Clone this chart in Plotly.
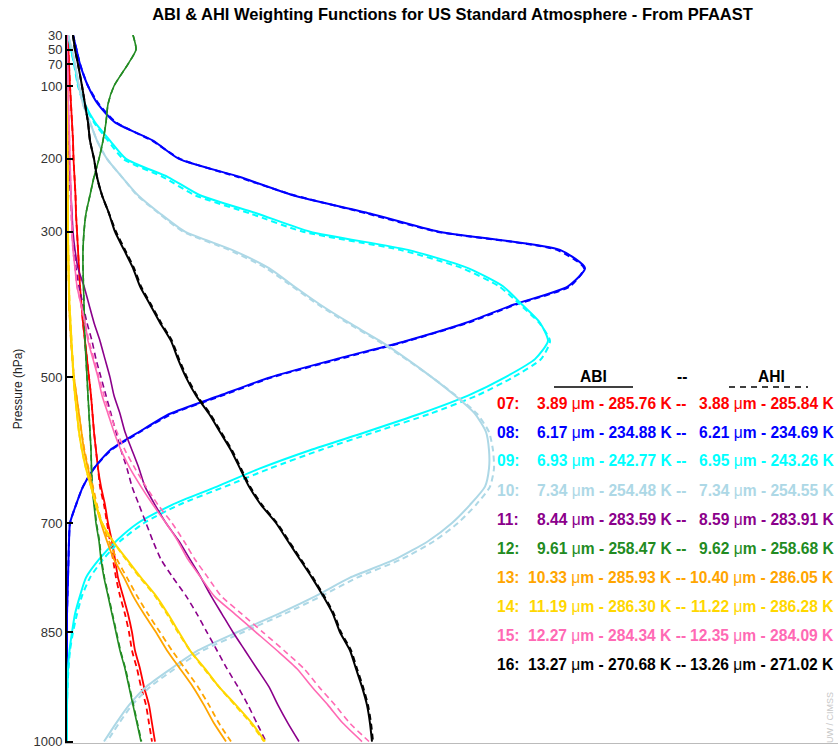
import plotly.graph_objects as go

# Pressure levels (hPa) on which the weighting functions are tabulated
P = [30, 50, 70, 100, 125, 150, 175, 200, 225, 250, 275, 300, 325, 350, 375,
     400, 425, 450, 475, 500, 525, 550, 575, 600, 625, 650, 675, 700, 725, 750,
     775, 800, 825, 850, 875, 900, 925, 950, 975, 1000]

# Weighting functions (arbitrary units, x1e-3) -- ABI (solid) and AHI (dashed)
ABI_07 = [1, 1.5, 2, 3, 4, 5, 6, 6.5, 7.5, 8.5, 9, 10, 11, 12, 13, 14.5, 16, 18, 20, 22,
          24, 25.5, 27, 29, 31, 34, 38, 41, 45, 48, 51, 56, 61, 65, 68, 73, 77, 82, 85, 88]
AHI_07 = [1, 1.5, 2, 3, 4, 5, 6, 6.5, 7.5, 8.5, 9, 10, 11, 12, 13, 14.5, 16, 18, 20, 22,
          24, 25.5, 27, 29, 31, 33, 37, 40, 43, 46, 49, 53, 58, 62, 65, 70, 74, 79, 82, 85]

ABI_08 = [6, 9.5, 13, 21, 31, 48, 86, 112, 173, 226, 303, 372, 493, 518, 501, 447, 399, 339, 269, 203,
          153, 103, 72, 43, 27, 16, 9, 3, 2, 1.5, 1, 0.5, 0, 0, 0, 0, 0, 0, 0, 0]
AHI_08 = [6, 9.5, 13, 21, 32, 49, 85, 113, 171, 227, 300, 370, 490, 517, 503, 449, 401, 341, 272, 205,
          155, 105, 73, 44, 27, 16, 9, 3, 2, 1.5, 1, 0.5, 0, 0, 0, 0, 0, 0, 0, 0]

ABI_09 = [1, 4, 7.5, 11.5, 18, 28, 43, 59, 101, 133, 190, 243, 341, 401, 436, 455, 473, 481, 468, 438,
          401, 353, 299, 243, 193, 150, 105, 71, 49, 32, 19, 13, 8, 5, 2.5, 1, 0.5, 0, 0, 0]
AHI_09 = [1, 4, 7, 11, 17, 27, 41, 56, 96, 128, 183, 236, 333, 395, 432, 453, 472, 483, 474, 446,
          410, 363, 308, 253, 203, 158, 112, 77, 53, 36, 23, 15, 10, 6, 3, 1.5, 0.5, 0, 0, 0]

ABI_10 = [1, 5, 8, 12, 16, 23, 30, 40, 55, 71, 93, 118, 165, 202, 227, 253, 282, 313, 340, 365,
          388, 408, 419, 422, 422, 418, 403, 385, 361, 328, 283, 249, 211, 170, 131, 104, 79, 62, 49, 37]
AHI_10 = [1, 5, 8, 12, 16, 23, 30, 40, 55, 70, 92, 116, 162, 199, 225, 251, 280, 311, 339, 365,
          389, 410, 422, 426, 427, 423, 409, 391, 367, 334, 290, 255, 217, 176, 136, 108, 83, 65, 52, 40]

ABI_11 = [0, 0.2, 0.4, 0.6, 0.8, 1, 1.5, 2, 3, 4, 5, 6, 8, 11, 17, 22, 27, 33, 38, 43,
          47, 53, 58, 65, 72, 78, 88, 99, 112, 123, 134, 144, 155, 166, 178, 190, 202, 211, 221, 232]
AHI_11 = [0, 0.2, 0.4, 0.6, 0.8, 1, 1.5, 2, 2.5, 3.5, 4.5, 5, 7, 9, 12, 16, 20, 25, 29, 34,
          39, 44, 49, 54, 60, 65, 72, 79, 86, 94, 106, 119, 130, 140, 150, 160, 171, 181, 190, 199]

ABI_12 = [66, 69, 61, 47, 41, 39, 36, 32, 27, 23, 19, 17, 16, 16, 16.5, 17, 17.5, 18, 19, 20,
          21, 22, 23, 24, 24.5, 25, 27, 29, 32, 34, 37, 41, 45, 49, 53, 58, 62, 66, 70, 74]
AHI_12 = [66, 69, 61, 47, 41, 39, 36, 32, 27, 23, 19, 17, 16, 16, 16.5, 17, 17.5, 18, 19, 20,
          21, 22, 23, 24, 24.5, 25.5, 27.5, 29.5, 32.5, 34.5, 37.5, 41.5, 45.5, 49.5, 53.5, 58.5,
          62.5, 66.5, 70.5, 74.5]

ABI_13 = [0, 0, 0, 0.3, 0.4, 0.5, 0.5, 0.5, 0.7, 0.8, 0.9, 1, 1.2, 1.5, 1.8, 2, 3, 4, 5.5, 7,
          9.5, 12, 14.5, 17, 21, 25, 29, 34, 40, 47, 57, 66, 77, 89, 100, 113, 126, 137, 147, 159]
AHI_13 = [0, 0, 0, 0.3, 0.4, 0.5, 0.5, 0.5, 0.7, 0.8, 0.9, 1, 1.2, 1.5, 1.8, 2, 3, 4, 5.5, 7,
          9.5, 12, 14.5, 17.5, 21.5, 26, 30, 35, 42, 50, 60, 70, 81, 93, 105, 118, 131, 142, 152, 164]

ABI_14 = [0, 0, 0, 0.2, 0.3, 0.3, 0.4, 0.4, 0.5, 0.6, 0.8, 1, 1.2, 1.5, 2, 2.5, 3.5, 4.5, 5.5, 6.5,
          8, 10, 12, 15, 19, 24, 29, 35, 46, 60, 74, 89, 101, 112, 123, 138, 152, 169, 185, 198]
AHI_14 = [0, 0, 0, 0.2, 0.3, 0.3, 0.4, 0.4, 0.5, 0.6, 0.8, 1, 1.2, 1.5, 2, 2.5, 3.5, 4.5, 5.5, 6.5,
          8, 10, 12, 15, 19, 24, 29, 35, 46, 59, 73, 88, 100, 111, 123, 137, 152, 168, 184, 197]

ABI_15 = [0, 0.3, 0.5, 1, 1.5, 2, 2.5, 3, 3.5, 4, 4.5, 5, 6, 8, 10, 14, 18, 21, 26, 31,
          35, 41, 47, 54, 63, 74, 86, 99, 111, 121, 134, 147, 168, 189, 210, 230, 245, 261, 276, 295]
AHI_15 = [0, 0.3, 0.5, 1, 1.5, 2, 2.5, 3, 3.5, 4, 4.5, 5, 6, 8, 10, 14, 18, 22, 27, 32,
          37, 43, 50, 58, 68, 79, 91, 105, 117, 128, 141, 154, 175, 196, 217, 237, 252, 268, 283, 302]

ABI_16 = [6, 8, 11, 15, 18, 21, 23, 27, 30, 35, 42, 48, 57, 66, 73, 83, 93, 104, 111, 119,
          129, 142, 153, 164, 173, 182, 194, 209, 221, 233, 245, 256, 266, 273, 283, 289, 295, 300, 303, 305]
AHI_16 = [6, 8, 11, 15, 18, 21, 23, 27, 30, 35, 42, 49, 58, 67, 74, 84, 94, 105, 112, 120,
          130, 143, 154, 165, 174, 183, 195, 210, 222, 234, 246, 257, 267, 274, 284, 290, 296, 301, 304, 306]

# Band table: number, ABI wavelength / BT, AHI wavelength / BT
BANDS = ["07", "08", "09", "10", "11", "12", "13", "14", "15", "16"]
ABI_WAVE = ["3.89", "6.17", "6.93", "7.34", "8.44", "9.61", "10.33", "11.19", "12.27", "13.27"]
ABI_BT = ["285.76", "234.88", "242.77", "254.48", "283.59", "258.47", "285.93", "286.30", "284.34", "270.68"]
AHI_WAVE = ["3.88", "6.21", "6.95", "7.34", "8.59", "9.62", "10.40", "11.22", "12.35", "13.26"]
AHI_BT = ["285.84", "234.69", "243.26", "254.55", "283.91", "258.68", "286.05", "286.28", "284.09", "271.02"]
COLORS = ["#ff0000", "#0000ff", "#00ffff", "#add8e6", "#8b008b",
          "#228b22", "#ffa500", "#ffd700", "#ff69b4", "#000000"]
WIDTHS = [1.8, 2.0, 2.0, 2.0, 1.6, 1.6, 1.8, 2.0, 1.6, 2.0]

ABI = [ABI_07, ABI_08, ABI_09, ABI_10, ABI_11, ABI_12, ABI_13, ABI_14, ABI_15, ABI_16]
AHI = [AHI_07, AHI_08, AHI_09, AHI_10, AHI_11, AHI_12, AHI_13, AHI_14, AHI_15, AHI_16]

W, H = 838, 748
ML, MR, MT, MB = 67, 0, 35, 5
PW, PH = W - ML - MR, H - MT - MB

fig = go.Figure()
for i, b in enumerate(BANDS):
    fig.add_trace(go.Scatter(x=AHI[i], y=P, mode="lines", name="AHI " + b,
                             line=dict(color=COLORS[i], width=WIDTHS[i], dash="6px,4px",
                                       shape="spline", smoothing=0.6)))
    fig.add_trace(go.Scatter(x=ABI[i], y=P, mode="lines", name="ABI " + b,
                             line=dict(color=COLORS[i], width=WIDTHS[i],
                                       shape="spline", smoothing=0.6)))


def px(xp):
    return (xp - ML) / PW


def py(yp):
    return (H - MB - yp) / PH


FONT = "Liberation Sans, Arial, Helvetica, sans-serif"
ann = []
shapes = []

# table header
ann.append(dict(text="<b>ABI</b>", x=px(593), y=py(376), xanchor="center", yanchor="middle"))
ann.append(dict(text="<b>--</b>", x=px(682), y=py(376), xanchor="center", yanchor="middle"))
ann.append(dict(text="<b>AHI</b>", x=px(771), y=py(376), xanchor="center", yanchor="middle"))
shapes.append(dict(type="line", xref="paper", yref="paper", x0=px(554), x1=px(633),
                   y0=py(387), y1=py(387), line=dict(color="black", width=1.5)))
shapes.append(dict(type="line", xref="paper", yref="paper", x0=px(729), x1=px(808),
                   y0=py(387), y1=py(387), line=dict(color="black", width=1.5, dash="6px,5px")))

for i, b in enumerate(BANDS):
    yrow = py(403 + i * 29)
    c = COLORS[i]
    ann.append(dict(text="<b>%s:</b>" % b, x=px(495), y=yrow, xanchor="left",
                    yanchor="middle", font=dict(color=c)))
    ann.append(dict(text="<b>%s </b>μ<b>m - %s K --</b>" % (ABI_WAVE[i], ABI_BT[i]),
                    x=px(688), y=yrow, xanchor="right", yanchor="middle", font=dict(color=c)))
    ann.append(dict(text="<b>%s </b>μ<b>m - %s K</b>" % (AHI_WAVE[i], AHI_BT[i]),
                    x=px(836), y=yrow, xanchor="right", yanchor="middle", font=dict(color=c)))

for a in ann:
    a.update(xref="paper", yref="paper", showarrow=False)
    f = dict(family=FONT, size=15.6, color="black")
    f.update(a.get("font", {}))
    a["font"] = f

# credit
ann.append(dict(text="UW / CIMSS", x=px(830), y=py(718), xref="paper", yref="paper",
                xanchor="center", yanchor="middle", textangle=-90, showarrow=False,
                font=dict(family=FONT, size=9, color="#c8c8c8")))

fig.update_layout(
    width=W, height=H,
    margin=dict(l=ML, r=MR, t=MT, b=MB),
    paper_bgcolor="white", plot_bgcolor="white",
    showlegend=False,
    title=dict(text="<b>ABI & AHI Weighting Functions for US Standard Atmosphere - From PFAAST</b>",
               x=0.5, xref="paper", xanchor="center", y=1 - 14 / H, yref="container",
               yanchor="middle", font=dict(family=FONT, size=16.5, color="black")),
    annotations=ann, shapes=shapes,
    xaxis=dict(range=[0, PW], showgrid=False, zeroline=False, showticklabels=False,
               ticks="", showline=True, linecolor="#bbbbbb", linewidth=1),
    yaxis=dict(range=[1002, 30], showgrid=False, zeroline=False,
               tickvals=[30, 50, 70, 100, 200, 300, 500, 700, 850, 1000],
               ticks="inside", ticklen=6, tickwidth=1.5, tickcolor="black",
               ticklabeloverflow="allow",
               showline=True, linecolor="black", linewidth=2,
               tickfont=dict(family=FONT, size=13, color="#333333"),
               title=dict(text="Pressure (hPa)", standoff=8,
                          font=dict(family=FONT, size=12, color="#222222"))),
)

fig.write_html("out.html")
